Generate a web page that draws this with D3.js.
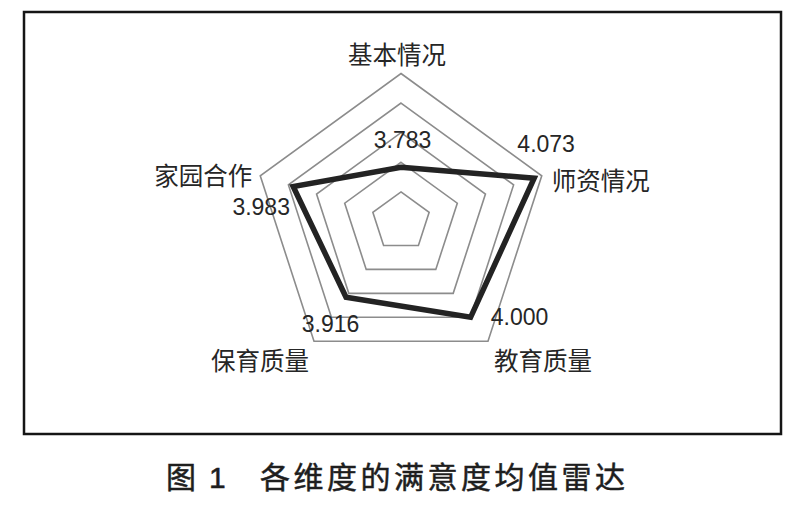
<!DOCTYPE html>
<html><head><meta charset="utf-8">
<script src="https://cdn.jsdelivr.net/npm/d3@7"></script>
<style>body{margin:0;background:#fff}svg{display:block}</style>
</head><body>
<svg id="c" width="793" height="505"></svg>
<script>
const categories = ["基本情况", "师资情况", "教育质量", "保育质量", "家园合作"];
const values = [3.783, 4.073, 4.000, 3.916, 3.983];
const valueLabels = ["3.783", "4.073", "4.000", "3.916", "3.983"];
const gridLevels = [3.7, 3.8, 3.9, 4.0, 4.1];
const domain = [3.6, 4.1];
const figNo = "图";
const figNum = "1";
const caption = "各维度的满意度均值雷达";

const svg = d3.select("#c");
const cx = 401, cy = 221.5, R = 148;
const r = d3.scaleLinear().domain(domain).range([0, R]);
const n = categories.length;
const ang = i => i * 2 * Math.PI / n;
const pt = (i, v) => [cx + r(v) * Math.sin(ang(i)), cy - r(v) * Math.cos(ang(i))];

// frame
svg.append("rect").attr("x", 24).attr("y", 12).attr("width", 757).attr("height", 422)
  .attr("fill", "#fff").attr("stroke", "#151515").attr("stroke-width", 2.5);

// grid
const line = d3.line().curve(d3.curveLinearClosed);
svg.append("g").selectAll("path").data(gridLevels).join("path")
  .attr("d", lv => line(categories.map((c, i) => pt(i, lv))))
  .attr("fill", "none").attr("stroke", "#8c8c8c").attr("stroke-width", 1.6);

// data
svg.append("path").attr("d", line(values.map((v, i) => pt(i, v))))
  .attr("fill", "none").attr("stroke", "#232323").attr("stroke-width", 5.5)
  .attr("stroke-linejoin", "miter");

// category labels
const catOff = [[-4, -10, "middle"], [10, 14, "start"], [55, 29, "middle"], [-54, 29, "middle"], [-8, 9, "end"]];
svg.append("g").selectAll("text").data(categories).join("text")
  .attr("x", (d, i) => pt(i, domain[1])[0] + catOff[i][0])
  .attr("y", (d, i) => pt(i, domain[1])[1] + catOff[i][1])
  .attr("text-anchor", (d, i) => catOff[i][2])
  .attr("font-family", "'Noto Sans CJK SC', sans-serif")
  .attr("font-size", 24.5).attr("fill", "#262626")
  .text(d => d);

// value labels
const valOff = [[1.5, -19], [12, -26], [49, 8], [-15.5, 35], [-32, 28.5]];
svg.append("g").selectAll("text").data(values).join("text")
  .attr("x", (d, i) => pt(i, d)[0] + valOff[i][0])
  .attr("y", (d, i) => pt(i, d)[1] + valOff[i][1])
  .attr("text-anchor", "middle")
  .attr("font-family", "'Liberation Sans', Arial, sans-serif")
  .attr("font-size", 23).attr("fill", "#262626")
  .text((d, i) => valueLabels[i]);

// caption
const cap = svg.append("text").attr("y", 488)
  .attr("font-family", "'Noto Sans CJK SC', sans-serif")
  .attr("font-size", 30).attr("fill", "#1e1e1e")
  .attr("stroke", "#1e1e1e").attr("stroke-width", 0.5);
cap.append("tspan").attr("x", 166).text(figNo);
cap.append("tspan").attr("x", 209).attr("font-family", "'Liberation Sans', Arial, sans-serif").text(figNum);
cap.append("tspan").attr("x", 260).attr("letter-spacing", 3.5).text(caption);
</script>
</body></html>
